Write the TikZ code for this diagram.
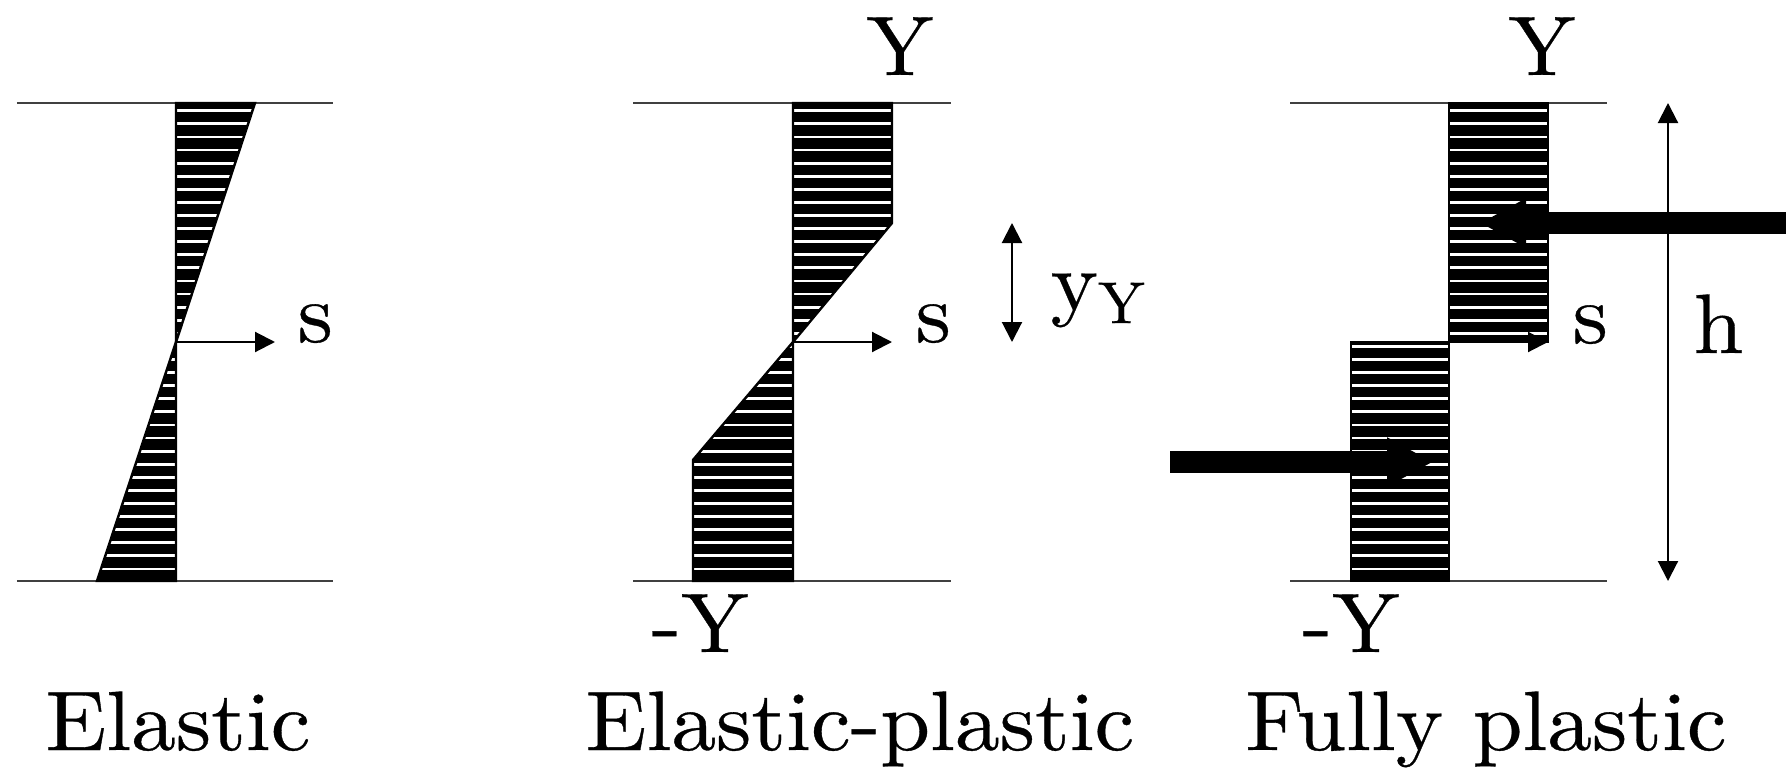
\documentclass[tikz,border=0pt]{standalone}
\usepackage{fontspec}
\setmainfont{lmroman10-regular.otf}[FakeStretch=1.06, FakeBold=0.4]
\usepackage{tikz}
\usetikzlibrary{arrows.meta,positioning}

\tikzset{
  refline/.style={line width=0.75pt, black!75},
  sarrow/.style={line width=0.6pt, -{Triangle[length=2mm,width=2mm]}},
  dimarrow/.style={line width=0.6pt, {Triangle[length=2mm,width=2mm]}-{Triangle[length=2mm,width=2mm]}},
  forcearrow/.style={line width=2.2mm, -{Triangle[length=4.6mm,width=4.6mm]}},
  lbl/.style={font=\fontsize{24}{28}\selectfont, inner sep=0pt}
}

% black area with thin white horizontal stripes
\newcommand{\hatcharea}[1]{%
  \begin{scope}
    \clip #1;
    \fill[black] (0,0) rectangle (18,8);
    \foreach \k in {0,...,35}
      \draw[white, line width=0.8pt] (0,{6.562-\k*0.1309}) -- (18,{6.562-\k*0.1309});
  \end{scope}
  \draw[line width=0.7pt] #1;}

\begin{document}
\begin{tikzpicture}
        \useasboundingbox (0,0) rectangle (17.86,7.67);

        \draw[refline] (0.17,6.64) -- (3.33,6.64);
        \draw[refline] (0.17,1.86) -- (3.33,1.86);
        \draw[refline] (6.33,6.64) -- (9.51,6.64);
        \draw[refline] (6.33,1.86) -- (9.51,1.86);
        \draw[refline] (12.90,6.64) -- (16.07,6.64);
        \draw[refline] (12.90,1.86) -- (16.07,1.86);

        % Elastic
        \hatcharea{(1.76,6.64) -- (2.55,6.64) -- (1.76,4.25) -- cycle}
        \hatcharea{(1.76,4.25) -- (0.97,1.86) -- (1.76,1.86) -- cycle}

        % Elastic-plastic
        \hatcharea{(7.93,6.64) -- (8.92,6.64) -- (8.92,5.44) -- (7.93,4.25) -- cycle}
        \hatcharea{(7.93,4.25) -- (6.93,3.07) -- (6.93,1.86) -- (7.93,1.86) -- cycle}

        % Fully plastic
        \hatcharea{(14.49,6.64) -- (15.48,6.64) -- (15.48,4.25) -- (14.49,4.25) -- cycle}
        \hatcharea{(13.51,4.25) -- (14.49,4.25) -- (14.49,1.86) -- (13.51,1.86) -- cycle}

        \coordinate (e-mid) at (1.76,4.25);
        \coordinate (e-end) at (2.75,4.25);
        \coordinate (ep-mid) at (7.93,4.25);
        \coordinate (ep-end) at (8.92,4.25);
        \coordinate (ep-dtop) at (10.12,5.44);
        \coordinate (ep-dbot) at (10.12,4.25);
        \coordinate (fp-mid) at (14.49,4.25);
        \coordinate (fp-end) at (15.48,4.25);
        \coordinate (fp-htop) at (16.68,6.64);
        \coordinate (fp-hbot) at (16.68,1.86);
        \coordinate (fp-tstart) at (17.95,5.44);
        \coordinate (fp-ttip) at (14.80,5.44);
        \coordinate (fp-cstart) at (11.70,3.05);
        \coordinate (fp-ctip) at (14.33,3.05);

        \draw[sarrow] (e-mid) -- (e-end);
        \draw[sarrow] (ep-mid) -- (ep-end);
        \draw[sarrow] (fp-mid) -- (fp-end);
        \draw[dimarrow] (ep-dtop) -- (ep-dbot);
        \draw[dimarrow] (fp-htop) -- (fp-hbot);

        \draw[forcearrow] (fp-tstart) -- (fp-ttip);
        \draw[forcearrow] (fp-cstart) -- (fp-ctip);

        \node[lbl, anchor=base west] (e-s) at (2.97,4.25) {s};
        \node[lbl, anchor=base west] (ep-s) at (9.15,4.25) {s};
        \node[lbl, anchor=base west] (fp-s) at (15.72,4.24) {s};
        \node[lbl, anchor=base west] (ep-yy) at (10.50,4.57) {y\textsubscript{Y}};
        \node[lbl, anchor=base west] (fp-h) at (16.93,4.14) {h};

        \node[lbl, anchor=base] (ep-ytop) at (9.00,6.92) {Y};
        \node[lbl, anchor=base] (fp-ytop) at (15.42,6.92) {Y};
        \node[lbl, anchor=base] (ep-ybot) at (7.00,1.15) {-Y};
        \node[lbl, anchor=base] (fp-ybot) at (13.51,1.15) {-Y};

        \node[lbl, anchor=base] (e-title) at (1.78,0.17) {Elastic};
        \node[lbl, anchor=base] (ep-title) at (8.60,0.17) {Elastic-plastic};
        \node[lbl, anchor=base] (fp-title) at (14.86,0.17) {Fully plastic};
\end{tikzpicture}
\end{document}
